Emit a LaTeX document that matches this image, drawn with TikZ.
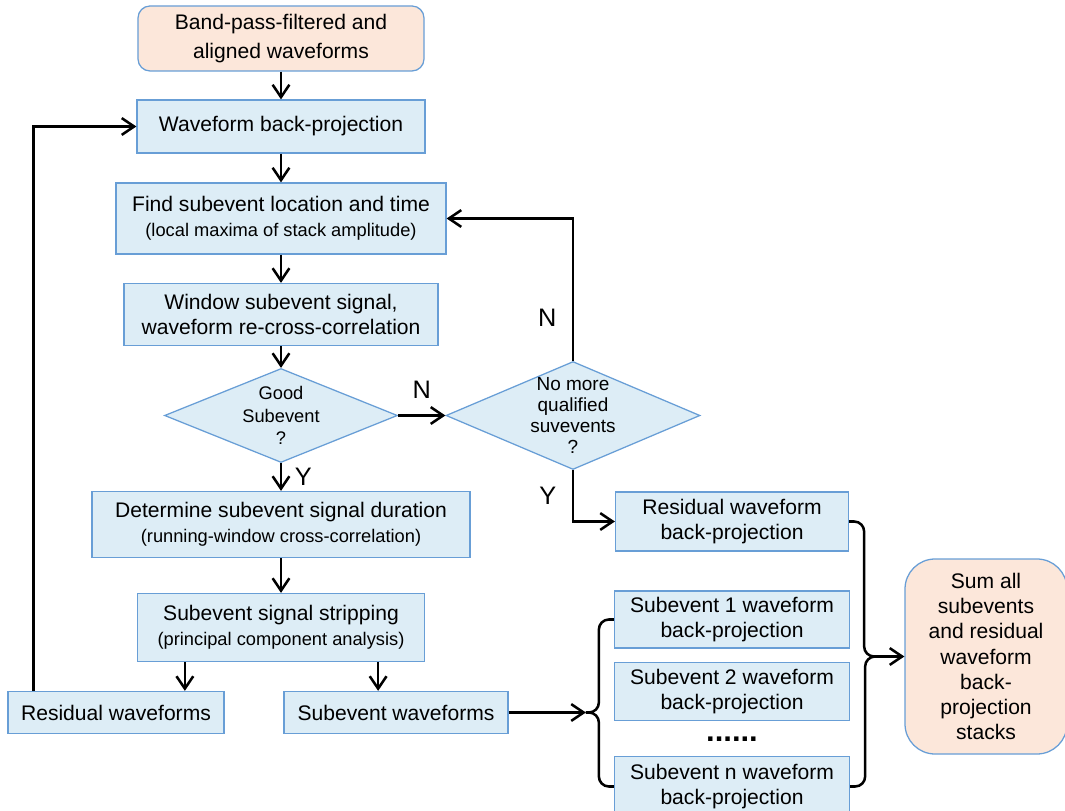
\documentclass[tikz,border=0pt]{standalone}
\usepackage{fontspec}
\setmainfont{Liberation Sans}
\usepackage{tikz}
\usetikzlibrary{arrows,arrows.meta,shapes.geometric,calc}

\definecolor{boxfill}{RGB}{221,237,246}
\definecolor{boxline}{RGB}{104,158,214}
\definecolor{srcfill}{RGB}{252,231,218}

\newcommand{\subsize}{\fontsize{13}{16}\selectfont}

\begin{document}
\begin{tikzpicture}[-,>={Straight Barb[length=3.1mm,width=4.2mm]},line width=1.8pt,
  every node/.style={font=\fontsize{15}{18}\selectfont},
  box node/.style={rectangle,draw=boxline,fill=boxfill,line width=0.9pt,align=center,inner sep=2pt},
  src node/.style={box node,fill=srcfill,rounded corners=0.3cm},
  test node/.style={diamond,draw=boxline,fill=boxfill,line width=0.9pt,align=center,inner sep=-4pt,font=\fontsize{13}{16}\selectfont},
  yn node/.style={font=\fontsize{18}{20}\selectfont,inner sep=3pt}]
  \useasboundingbox (-7.025,0.9625) rectangle (19.6,-19.3125);

  \node[src node,minimum width=7.15cm,minimum height=1.625cm,font=\fontsize{15}{20.5}\selectfont] (top) {Band-pass-filtered and\\aligned waveforms};
  \node[box node,minimum width=7.2cm,minimum height=1.325cm] (wbp) [below of=top,node distance=2.2cm] {Waveform back-projection};
  \node[box node,minimum width=8.25cm,minimum height=1.775cm] (find) [below of=wbp,node distance=2.3cm] {Find subevent location and time\\{\subsize(local maxima of stack amplitude)}};
  \node[box node,minimum width=7.85cm,minimum height=1.55cm] (window) [below of=find,node distance=2.4cm] {Window subevent signal,\\waveform re-cross-correlation};
  \node[test node,aspect=2.5,minimum width=5.825cm,minimum height=2.35cm] (good) [below of=window,node distance=2.525cm] {Good\\Subevent\\?};
  \node[box node,minimum width=9.45cm,minimum height=1.65cm] (determine) [below of=good,node distance=2.725cm] {Determine subevent signal duration\\{\subsize(running-window cross-correlation)}};
  \node[box node,minimum width=7.175cm,minimum height=1.7cm] (strip) [below of=determine,node distance=2.575cm] {Subevent signal stripping\\{\subsize(principal component analysis)}};
  \node[box node,minimum width=5.4cm,minimum height=1.05cm] (resw) [below of=strip,node distance=2.125cm,xshift=-4.125cm] {Residual waveforms};
  \node[box node,minimum width=5.6cm,minimum height=1.05cm] (subw) [below of=strip,node distance=2.125cm,xshift=2.875cm] {Subevent waveforms};

  \node[test node,aspect=2.35,minimum width=6.35cm,minimum height=2.7cm,font=\fontsize{13.5}{15}\selectfont] (nomore) [right of=good,node distance=7.3cm] {No more\\qualified\\suvevents\\?};
  \node[box node,minimum width=5.825cm,minimum height=1.475cm] (rwbp) [below of=nomore,node distance=2.65cm,xshift=3.975cm] {Residual waveform\\back-projection};
  \node[box node,minimum width=5.875cm,minimum height=1.425cm] (sub1) [below of=rwbp,node distance=2.45cm] {Subevent 1 waveform\\back-projection};
  \node[box node,minimum width=5.875cm,minimum height=1.45cm] (sub2) [below of=sub1,node distance=1.8cm] {Subevent 2 waveform\\back-projection};
  \node[font=\bfseries\fontsize{22}{22}\selectfont] (dots) [below of=sub2,node distance=1.2cm] {......};
  \node[box node,minimum width=5.875cm,minimum height=1.5cm] (subn) [below of=sub2,node distance=2.375cm] {Subevent n waveform\\back-projection};
  \node[src node,rounded corners=0.75cm,minimum width=4.05cm,minimum height=4.875cm] (sum) [right of=sub1,node distance=6.35cm,yshift=-0.925cm] {Sum all\\subevents\\and residual\\waveform\\back-\\projection\\stacks};

  % main column
  \path[->]
    (top) edge (wbp)
    (wbp) edge (find)
    (find) edge (window)
    (window) edge (good)
    (good) edge node[yn node,right=6pt] (ygood) {Y} (determine)
    (good) edge node[yn node,above=8pt] (ngood) {N} (nomore)
    (determine) edge (strip);

  \draw[->] (nomore.north) |- node[yn node,pos=0.15,left=8pt] (nup) {N} (find.east);
  \draw[->] (nomore.south) |- node[yn node,pos=0.25,left=8pt] (ydown) {Y} (rwbp.west);

  % stripping outputs and the loop back
  \coordinate (rsplit) at ([xshift=1.2cm]strip.south west);
  \coordinate (ssplit) at ([xshift=-1.175cm]strip.south east);
  \draw[->] (rsplit) -- (rsplit |- resw.north);
  \draw[->] (ssplit) -- (ssplit |- subw.north);
  \coordinate (rback) at ([xshift=0.65cm]resw.north west);
  \draw[->] (rback) |- (wbp.west);

  % braces
  \coordinate (ltip) at ($(subw.east -| sub2.west)+(-0.7cm,0)$);
  \draw[->] (subw.east) -- (ltip);
  \draw[rounded corners=0.25cm] (sub1.west) -- ++(-0.375cm,0) |- (ltip);
  \draw[rounded corners=0.25cm] (subn.west) -- ++(-0.375cm,0) |- (ltip);
  \coordinate (rtip) at ([xshift=-0.7cm]sum.west);
  \draw[rounded corners=0.25cm] (rwbp.east) -- ++(0.375cm,0) |- (rtip);
  \draw[rounded corners=0.25cm] (subn.east) -- ++(0.375cm,0) |- (rtip);
  \draw[->] (rtip) -- (sum.west);
\end{tikzpicture}
\end{document}
